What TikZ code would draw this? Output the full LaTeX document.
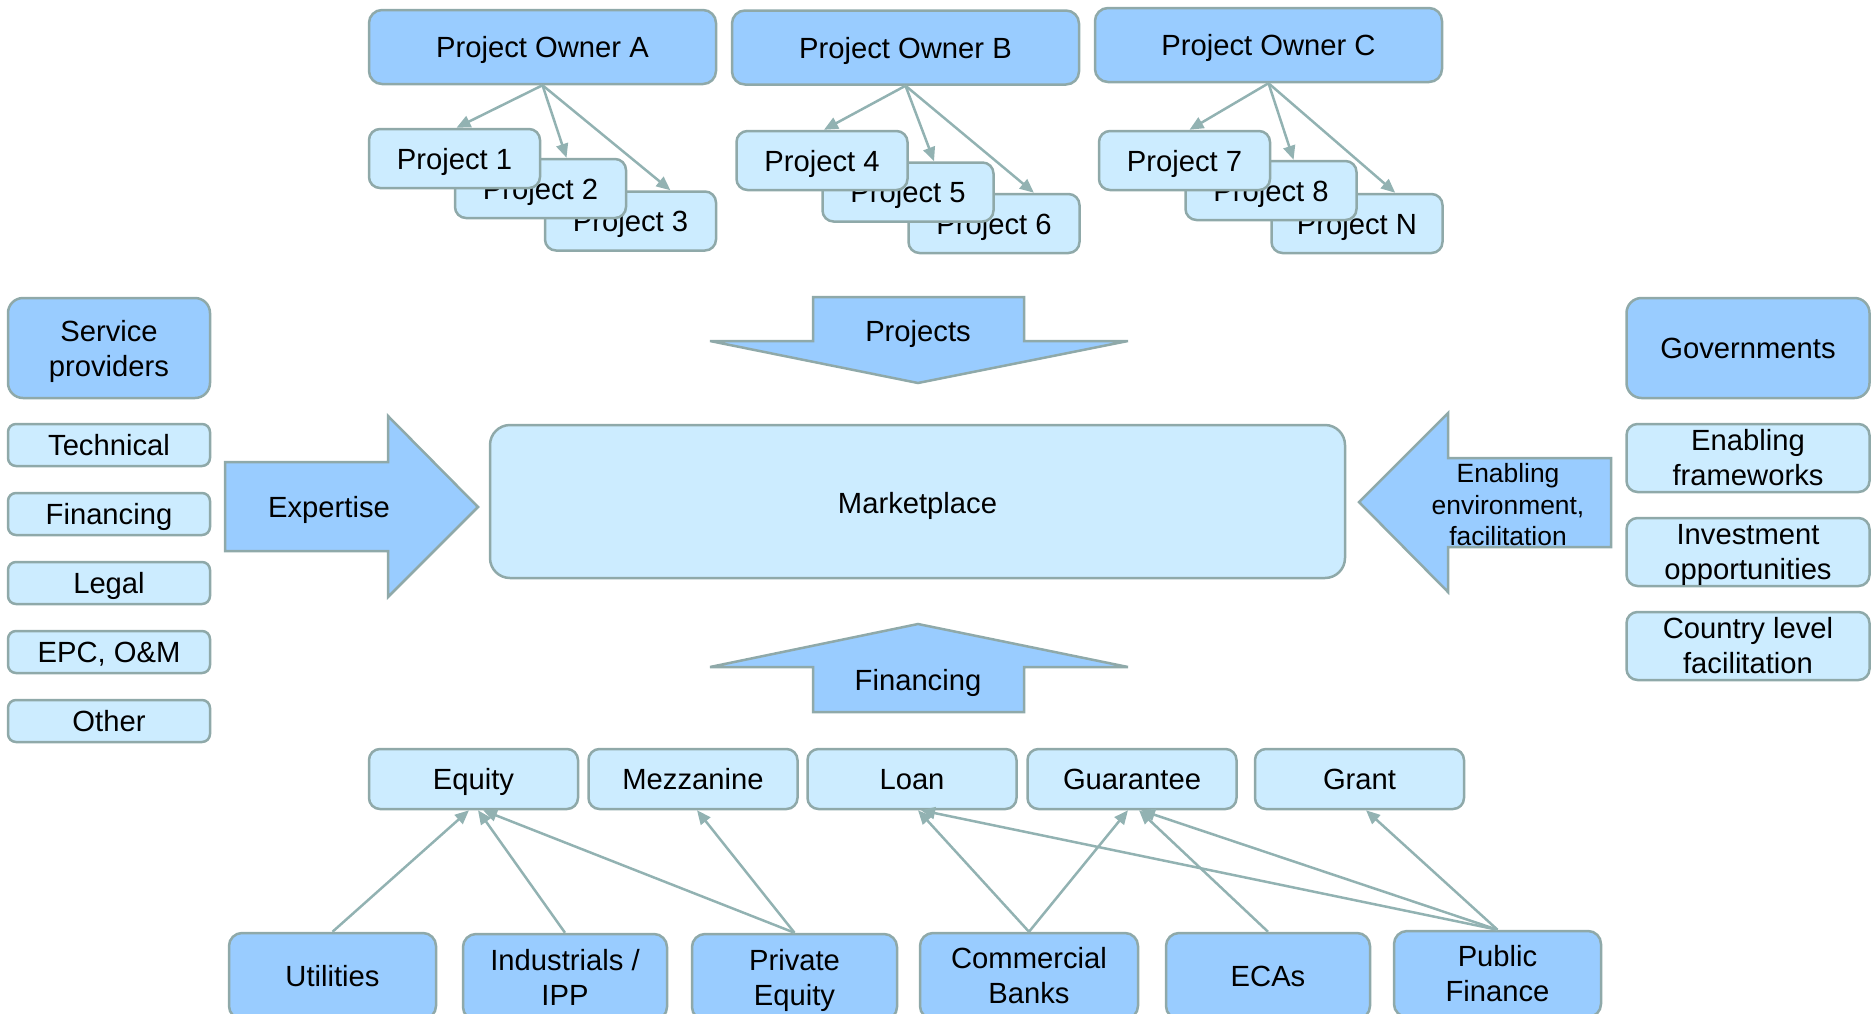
\documentclass[tikz,border=0pt]{standalone}
\usepackage{fontspec}
\setmainfont{Liberation Sans}
\usetikzlibrary{arrows.meta,calc}
\definecolor{bordc}{HTML}{8FA9A9}
\definecolor{arrc}{HTML}{92B2B2}
\definecolor{darkb}{HTML}{99CCFF}
\definecolor{lightb}{HTML}{CCECFF}
\newcommand\fmain{\fontsize{29.2}{35}\selectfont}
\newcommand\fsmall{\fontsize{26.4}{31.5}\selectfont}
\begin{document}
\begin{tikzpicture}[x=1pt,y=-1pt,
 boxbase/.style={draw=bordc,line width=2.5pt,inner sep=0pt,align=center,font=\fmain,text=black},
 oneline/.style={text depth=0pt},
 darkbox/.style={boxbase,fill=darkb,rounded corners=13pt},
 lightbox/.style={boxbase,fill=lightb,rounded corners=11pt},
 smallbox/.style={boxbase,fill=lightb,rounded corners=8pt},
 ownerbox/.style={darkbox,oneline,minimum width=347pt,minimum height=74pt},
 projbox/.style={lightbox,oneline,minimum width=171pt,minimum height=59pt},
 sidebox/.style={smallbox,oneline,minimum width=202pt,minimum height=42pt},
 govbox/.style={lightbox,minimum width=243pt,minimum height=68pt},
 finbox/.style={lightbox,oneline,minimum width=209pt,minimum height=60pt},
 srcbox/.style={darkbox,minimum height=86pt},
 bigarrow/.style={draw=bordc,line width=2.5pt,fill=darkb,line join=miter,miter limit=5},
 conn/.style={draw=arrc,line width=2.5pt,-{Triangle[length=14pt,width=12pt]}},
 lbl/.style={font=\fmain,inner sep=0pt,align=center,text=black}]
\useasboundingbox (0,0) rectangle (1871,1013);

% Project owners
\node[ownerbox] (ownA) at (542.5,47) {Project Owner A};
\node[ownerbox] (ownB) at (905.5,47.5) {Project Owner B};
\node[ownerbox] (ownC) at (1268.5,45) {Project Owner C};

% Projects
\node[projbox] (p3) at (630.5,221) {Project 3};
\node[projbox] (p2) at (540.5,188.5) {Project 2};
\node[projbox] (p1) at (454.5,158.5) {Project 1};
\node[projbox] (p6) at (994,223.5) {Project 6};
\node[projbox] (p5) at (908,192) {Project 5};
\node[projbox] (p4) at (822,160.5) {Project 4};
\node[projbox] (pN) at (1357,223.5) {Project N};
\node[projbox] (p8) at (1271,190.5) {Project 8};
\node[projbox] (p7) at (1184.5,160.5) {Project 7};

\draw[conn] (ownA.south) -- ($(p1.north)+(2,0)$);
\draw[conn] (ownA.south) -- ($(p2.north west)!0.65!(p2.north east)$);
\draw[conn] (ownA.south) -- ($(p3.north west)!0.73!(p3.north east)$);
\draw[conn] (ownB.south) -- ($(p4.north)+(2,0)$);
\draw[conn] (ownB.south) -- ($(p5.north west)!0.65!(p5.north east)$);
\draw[conn] (ownB.south) -- ($(p6.north west)!0.73!(p6.north east)$);
\draw[conn] (ownC.south) -- ($(p7.north)+(5,0)$);
\draw[conn] (ownC.south) -- ($(p8.north west)!0.63!(p8.north east)$);
\draw[conn] (ownC.south) -- ($(pN.north west)!0.72!(pN.north east)$);

% Service providers
\node[darkbox,rounded corners=15pt,minimum width=202pt,minimum height=100pt] (sp) at (109,348) {Service\\\smash{providers}};
\node[sidebox] (tech) at (109,445) {Technical};
\node[sidebox] (finc) at (109,514) {Financing};
\node[sidebox] (legal) at (109,583) {Legal};
\node[sidebox] (epc) at (109,652) {EPC, O\&M};
\node[sidebox] (other) at (109,721) {Other};

% Governments
\node[darkbox,oneline,rounded corners=15pt,minimum width=243pt,minimum height=100pt] (gov) at (1748,348) {Governments};
\node[govbox] (enab) at (1748,458) {Enabling\\frameworks};
\node[govbox] (invest) at (1748,552) {Investment\\\smash{opportunities}};
\node[govbox] (country) at (1748,646) {Country level\\facilitation};

% Marketplace
\node[boxbase,fill=lightb,rounded corners=20pt,minimum width=855pt,minimum height=153pt] (market) at (917.5,501.5) {};
\node[lbl,anchor=base] (marketlbl) at (917.5,513) {Marketplace};

% Big arrows
\draw[bigarrow] (813,297) -- (1024,297) -- (1024,341) -- (1128,341) -- (918,383) -- (710,341) -- (813,341) -- cycle;
\node[lbl,anchor=base] (projlbl) at (918,341) {Projects};

\draw[bigarrow] (918,624) -- (1128,667) -- (1024,667) -- (1024,712) -- (813,712) -- (813,667) -- (710,667) -- cycle;
\node[lbl,anchor=base] (finlbl) at (918,690) {Financing};

\draw[bigarrow] (225,462) -- (388,462) -- (388,416) -- (478,507) -- (388,597) -- (388,551) -- (225,551) -- cycle;
\node[lbl,anchor=base] (explbl) at (329,517) {Expertise};

\draw[bigarrow] (1359,502) -- (1448,413) -- (1448,458) -- (1611,458) -- (1611,547) -- (1448,547) -- (1448,592) -- cycle;
\node[lbl,font=\fsmall] (envlbl) at (1508,505) {Enabling\\environment,\\facilitation};

% Financing instruments
\node[finbox] (equity) at (473.5,779) {Equity};
\node[finbox] (mezz) at (693,779) {Mezzanine};
\node[finbox] (loan) at (912,779) {Loan};
\node[finbox] (guar) at (1132,779) {Guarantee};
\node[finbox] (grant) at (1359.5,779) {Grant};

% Financing sources
\node[srcbox,oneline,minimum width=207pt] (util) at (332.5,976) {Utilities};
\node[srcbox,minimum width=204pt] (indus) at (565,977) {Industrials /\\IPP};
\node[srcbox,minimum width=205pt] (priv) at (794.5,977) {Private\\\smash{Equity}};
\node[srcbox,minimum width=218pt] (comm) at (1029,976) {Commercial\\Banks};
\node[srcbox,oneline,minimum width=204pt] (ecas) at (1268,976) {ECAs};
\node[srcbox,minimum width=207pt] (pub) at (1497.5,974) {Public\\Finance};

\draw[conn] (util.north) -- ($(equity.south)+(-4.5,0)$);
\draw[conn] (indus.north) -- ($(equity.south)+(4.5,0)$);
\draw[conn] (priv.north) -- ($(equity.south)+(9.5,0)$);
\draw[conn] (priv.north) -- ($(mezz.south)+(4,0)$);
\draw[conn] (comm.north) -- ($(loan.south)+(6,0)$);
\draw[conn] (comm.north) -- ($(guar.south)+(-4,0)$);
\draw[conn] (ecas.north) -- ($(guar.south)+(7,0)$);
\draw[conn] (pub.north) -- ($(loan.south)+(9,0)$);
\draw[conn] (pub.north) -- ($(guar.south)+(9,0)$);
\draw[conn] (pub.north) -- ($(grant.south)+(6.5,0)$);
\end{tikzpicture}
\end{document}
